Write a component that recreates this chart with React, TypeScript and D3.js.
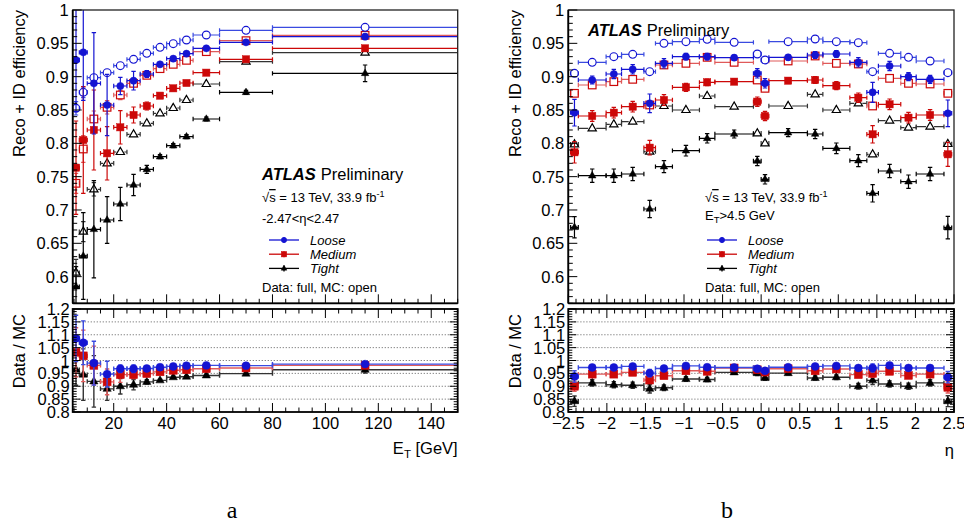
import React from 'react';
import * as d3 from 'd3';

// ---------- DATA: E_T panel (a) ----------
const etEdges = [4.5, 7, 10, 15, 20, 25, 30, 35, 40, 45, 50, 60, 80, 150];
const etLooseData = [0.925, 0.9365, 0.89, 0.8575, 0.886, 0.894, 0.904, 0.9185, 0.927, 0.9345, 0.9425, 0.9515, 0.96];
const etLooseDataErr = [0.077, 0.072, 0.076, 0.046, 0.013, 0.014, 0.005, 0.003, 0.003, 0.003, 0.003, 0.003, 0.004];
const etLooseMC = [0.8525, 0.8765, 0.8985, 0.906, 0.9165, 0.926, 0.935, 0.944, 0.9495, 0.955, 0.9625, 0.9695, 0.974];
const etLooseMCErr = [0.01, 0.008, 0.005, 0.004, 0.003, 0.003, 0.002, 0.002, 0.002, 0.002, 0.002, 0.002, 0.002];
const etMediumData = [0.7635, 0.805, 0.82, 0.785, 0.824, 0.8425, 0.856, 0.8715, 0.8825, 0.8905, 0.906, 0.926, 0.9425];
const etMediumDataErr = [0.07, 0.08, 0.06, 0.04, 0.025, 0.012, 0.006, 0.003, 0.003, 0.003, 0.003, 0.003, 0.004];
const etMediumMC = [0.74, 0.7915, 0.8365, 0.854, 0.8725, 0.89, 0.902, 0.912, 0.9185, 0.9245, 0.9375, 0.954, 0.962];
const etMediumMCErr = [0.015, 0.02, 0.012, 0.01, 0.007, 0.005, 0.003, 0.002, 0.002, 0.002, 0.002, 0.002, 0.002];
const etTightData = [0.585, 0.631, 0.671, 0.685, 0.709, 0.7375, 0.761, 0.78, 0.7965, 0.81, 0.8365, 0.8765, 0.905];
const etTightDataErr = [0.03, 0.065, 0.073, 0.035, 0.025, 0.016, 0.006, 0.003, 0.003, 0.003, 0.003, 0.003, 0.0125];
const etTightMC = [0.606, 0.6675, 0.731, 0.77, 0.787, 0.8135, 0.83, 0.845, 0.853, 0.865, 0.889, 0.9225, 0.936];
const etTightMCErr = [0.02, 0.015, 0.01, 0.005, 0.003, 0.003, 0.002, 0.002, 0.002, 0.002, 0.002, 0.002, 0.002];
const etLooseRatio = [1.086, 1.069, 0.99, 0.947, 0.968, 0.968, 0.969, 0.974, 0.977, 0.98, 0.981, 0.98, 0.986];
const etLooseRatioErr = [0.09, 0.085, 0.085, 0.05, 0.015, 0.015, 0.006, 0.004, 0.004, 0.004, 0.004, 0.004, 0.005];
const etMediumRatio = [1.032, 1.018, 0.981, 0.917, 0.945, 0.945, 0.949, 0.956, 0.962, 0.964, 0.968, 0.971, 0.981];
const etMediumRatioErr = [0.095, 0.1, 0.075, 0.05, 0.03, 0.015, 0.007, 0.004, 0.004, 0.004, 0.004, 0.004, 0.005];
const etTightRatio = [0.964, 0.945, 0.919, 0.89, 0.9, 0.906, 0.917, 0.923, 0.935, 0.937, 0.942, 0.949, 0.964];
const etTightRatioErr = [0.06, 0.1, 0.1, 0.045, 0.03, 0.02, 0.008, 0.004, 0.004, 0.004, 0.004, 0.004, 0.013];
const etTickLabels = [20, 40, 60, 80, 100, 120, 140];

// ---------- DATA: eta panel (b) ----------
const etaEdges = [-2.47, -2.37, -2.01, -1.81, -1.52, -1.37, -1.15, -0.8, -0.6, -0.1, 0, 0.1, 0.6, 0.8, 1.15, 1.37, 1.52, 1.81, 2.01, 2.37, 2.47];
const etaLooseData = [0.846, 0.895, 0.904, 0.911, 0.86, 0.92, 0.93, 0.93, 0.9285, 0.905, 0.89, 0.929, 0.9325, 0.934, 0.9215, 0.8765, 0.916, 0.9, 0.896, 0.845];
const etaLooseDataErr = [0.02, 0.006, 0.007, 0.007, 0.014, 0.007, 0.005, 0.005, 0.004, 0.007, 0.007, 0.004, 0.005, 0.005, 0.007, 0.015, 0.007, 0.006, 0.006, 0.02];
const etaLooseMC = [0.905, 0.9215, 0.93, 0.9335, 0.9075, 0.95, 0.9525, 0.956, 0.9515, 0.934, 0.925, 0.9525, 0.9565, 0.9525, 0.951, 0.9075, 0.935, 0.929, 0.9235, 0.906];
const etaLooseMCErr = [0.003, 0.002, 0.002, 0.002, 0.003, 0.002, 0.002, 0.002, 0.002, 0.002, 0.002, 0.002, 0.002, 0.002, 0.002, 0.003, 0.002, 0.002, 0.002, 0.003];
const etaMediumData = [0.7865, 0.841, 0.846, 0.855, 0.7935, 0.865, 0.884, 0.8915, 0.8925, 0.8625, 0.841, 0.894, 0.895, 0.8865, 0.8685, 0.8135, 0.8585, 0.8385, 0.8425, 0.7835];
const etaMediumDataErr = [0.016, 0.008, 0.008, 0.008, 0.011, 0.008, 0.006, 0.005, 0.004, 0.007, 0.007, 0.004, 0.005, 0.006, 0.007, 0.013, 0.008, 0.008, 0.008, 0.018];
const etaMediumMC = [0.875, 0.8875, 0.8925, 0.896, 0.8575, 0.9175, 0.92, 0.929, 0.9215, 0.895, 0.8825, 0.9235, 0.931, 0.92, 0.919, 0.856, 0.8975, 0.89, 0.889, 0.875];
const etaMediumMCErr = [0.003, 0.002, 0.002, 0.002, 0.003, 0.002, 0.002, 0.002, 0.002, 0.002, 0.002, 0.002, 0.002, 0.002, 0.002, 0.003, 0.002, 0.002, 0.002, 0.003];
const etaTightData = [0.674, 0.7515, 0.7515, 0.754, 0.7015, 0.765, 0.789, 0.8075, 0.814, 0.7735, 0.746, 0.816, 0.814, 0.7925, 0.774, 0.725, 0.7585, 0.7425, 0.754, 0.6735];
const etaTightDataErr = [0.016, 0.01, 0.01, 0.01, 0.013, 0.009, 0.008, 0.007, 0.006, 0.007, 0.007, 0.006, 0.007, 0.008, 0.009, 0.013, 0.01, 0.01, 0.01, 0.017];
const etaTightMC = [0.7985, 0.8225, 0.8285, 0.8325, 0.7875, 0.856, 0.85, 0.871, 0.855, 0.815, 0.8, 0.856, 0.8735, 0.85, 0.86, 0.7835, 0.834, 0.8235, 0.825, 0.799];
const etaTightMCErr = [0.004, 0.002, 0.002, 0.002, 0.003, 0.002, 0.002, 0.002, 0.002, 0.002, 0.002, 0.002, 0.002, 0.002, 0.002, 0.003, 0.002, 0.002, 0.002, 0.004];
const etaLooseRatio = [0.938, 0.973, 0.973, 0.977, 0.951, 0.969, 0.979, 0.974, 0.973, 0.968, 0.96, 0.974, 0.977, 0.979, 0.971, 0.971, 0.981, 0.971, 0.971, 0.935];
const etaLooseRatioErr = [0.022, 0.006, 0.007, 0.007, 0.014, 0.007, 0.005, 0.005, 0.004, 0.007, 0.007, 0.004, 0.005, 0.005, 0.007, 0.016, 0.007, 0.006, 0.006, 0.022];
const etaMediumRatio = [0.9, 0.947, 0.947, 0.954, 0.924, 0.941, 0.96, 0.958, 0.971, 0.964, 0.955, 0.968, 0.96, 0.967, 0.945, 0.95, 0.958, 0.942, 0.947, 0.896];
const etaMediumRatioErr = [0.02, 0.009, 0.009, 0.009, 0.013, 0.009, 0.007, 0.006, 0.005, 0.008, 0.008, 0.005, 0.006, 0.007, 0.008, 0.015, 0.009, 0.009, 0.009, 0.022];
const etaTightRatio = [0.842, 0.913, 0.906, 0.904, 0.89, 0.894, 0.928, 0.926, 0.954, 0.951, 0.932, 0.951, 0.932, 0.935, 0.9, 0.923, 0.909, 0.9, 0.913, 0.842];
const etaTightRatioErr = [0.02, 0.012, 0.012, 0.012, 0.016, 0.011, 0.009, 0.008, 0.007, 0.009, 0.009, 0.007, 0.008, 0.009, 0.011, 0.016, 0.012, 0.012, 0.012, 0.021];
const etaTickLabels = [-2.5, -2, -1.5, -1, -0.5, 0, 0.5, 1, 1.5, 2, 2.5];

const effTickLabels = [0.6, 0.65, 0.7, 0.75, 0.8, 0.85, 0.9, 0.95, 1];
const ratioTickLabels = [0.8, 0.85, 0.9, 0.95, 1, 1.05, 1.1, 1.15, 1.2];
const ratioGrid = [0.85, 0.9, 0.95, 1, 1.05, 1.1, 1.15];
const legendNames = ['Loose', 'Medium', 'Tight'];

// ---------- STYLE ----------
const FONT = "'Liberation Sans', Arial, Helvetica, sans-serif";
const BLUE = '#1414d2';
const RED = '#cc0808';
const BLACK = '#000000';
const BLUE_MC = '#3a4ae0';
const RED_MC = '#e05a5a';
const BLACK_MC = '#333333';
const COLORS = [BLUE, RED, BLACK];
const MC_COLORS = [BLUE_MC, RED_MC, BLACK_MC];
const SHAPES = ['circle', 'square', 'triangle'];

const TOP_Y0 = 10, TOP_Y1 = 303.3;
const RAT_Y0 = 309, RAT_Y1 = 412;

function Marker({ x, y, shape, open, color, s = 1 }: any) {
  const sw = 1.2;
  if (shape === 'circle') {
    const r = (open ? 3.9 : 3.6) * s;
    return <circle cx={x} cy={y} r={r} fill={open ? 'none' : color} stroke={color} strokeWidth={open ? sw : 0.5} />;
  }
  if (shape === 'square') {
    const h = (open ? 3.8 : 3.6) * s;
    return <rect x={x - h} y={y - h} width={2 * h} height={2 * h} fill={open ? 'none' : color} stroke={color} strokeWidth={open ? sw : 0.5} />;
  }
  const a = (open ? 4.6 : 4.2) * s;
  const pts = `${x},${y - a} ${x - a * 0.9},${y + a * 0.55} ${x + a * 0.9},${y + a * 0.55}`;
  return <polygon points={pts} fill={open ? 'none' : color} stroke={color} strokeWidth={open ? sw : 0.5} />;
}

function Points({ xs, ys, edges, vals, errs, color, barColor, shape, open, s = 1, barW = 1.2 }: any) {
  const gap = open ? 4 * s : 0;
  const cap = 2.2;
  return (
    <g>
      {vals.map((v: number, i: number) => {
        const xl = xs(edges[i]);
        const xr = xs(edges[i + 1]);
        const cx = xs((edges[i] + edges[i + 1]) / 2);
        const cy = ys(v);
        const yTop = ys(v + errs[i]);
        const yBot = ys(v - errs[i]);
        return (
          <g key={i} stroke={barColor} strokeWidth={barW} fill="none">
            <line x1={xl} x2={cx - gap} y1={cy} y2={cy} />
            <line x1={cx + gap} x2={xr} y1={cy} y2={cy} />
            <line x1={xl} x2={xl} y1={cy - cap} y2={cy + cap} />
            <line x1={xr} x2={xr} y1={cy - cap} y2={cy + cap} />
            {cy - yTop > gap && <line x1={cx} x2={cx} y1={yTop} y2={cy - gap} />}
            {yBot - cy > gap && <line x1={cx} x2={cx} y1={cy + gap} y2={yBot} />}
            {cy - yTop > gap && <line x1={cx - cap} x2={cx + cap} y1={yTop} y2={yTop} />}
            {yBot - cy > gap && <line x1={cx - cap} x2={cx + cap} y1={yBot} y2={yBot} />}
          </g>
        );
      })}
      {vals.map((v: number, i: number) => (
        <Marker key={'m' + i} x={xs((edges[i] + edges[i + 1]) / 2)} y={ys(v)} shape={shape} open={open} color={color} s={s} />
      ))}
    </g>
  );
}

function isMult(v: number, step: number) {
  const q = v / step;
  return Math.abs(q - Math.round(q)) < 1e-6;
}

function ticksOf(lo: number, hi: number, step: number) {
  const out: number[] = [];
  const start = Math.ceil(lo / step - 1e-9);
  const end = Math.floor(hi / step + 1e-9);
  for (let k = start; k <= end; k++) out.push(+(k * step).toFixed(6));
  return out;
}

function Panel(p: any) {
  const xs = d3.scaleLinear().domain(p.xDomain).range([p.x0, p.x1]);
  const yt = d3.scaleLinear().domain([0.56, 1]).range([TOP_Y1, TOP_Y0]);
  const yr = d3.scaleLinear().domain([0.8, 1.2]).range([RAT_Y1, RAT_Y0]);
  const xMinors = ticksOf(p.xDomain[0], p.xDomain[1], p.xMinor);
  const yMinorsTop = ticksOf(0.56, 1, 0.01);
  const yMinorsRat = ticksOf(0.8, 1.2, 0.01);
  const clipT = p.id + '-ct';
  const clipR = p.id + '-cr';
  const topSeries = p.top;
  const ratSeries = p.ratio;
  return (
    <g fontFamily={FONT}>
      <defs>
        <clipPath id={clipT}><rect x={p.x0} y={TOP_Y0} width={p.x1 - p.x0} height={TOP_Y1 - TOP_Y0} /></clipPath>
        <clipPath id={clipR}><rect x={p.x0} y={RAT_Y0} width={p.x1 - p.x0} height={RAT_Y1 - RAT_Y0} /></clipPath>
      </defs>
      {/* ratio grid */}
      {ratioGrid.map((v) => (
        <line key={'g' + v} x1={p.x0} x2={p.x1} y1={yr(v)} y2={yr(v)} stroke="#555" strokeWidth={0.8} strokeDasharray="1.2,1.8" />
      ))}
      {/* top data */}
      <g clipPath={`url(#${clipT})`}>
        {topSeries.map((s: any, k: number) => (
          <Points key={k} xs={xs} ys={yt} edges={p.edges} {...s} />
        ))}
      </g>
      <g clipPath={`url(#${clipR})`}>
        {ratSeries.map((s: any, k: number) => (
          <Points key={k} xs={xs} ys={yr} edges={p.edges} {...s} />
        ))}
      </g>
      {/* frames */}
      <rect x={p.x0} y={TOP_Y0} width={p.x1 - p.x0} height={TOP_Y1 - TOP_Y0} fill="none" stroke="#222" strokeWidth={1.3} />
      <line x1={p.x0} x2={p.x0} y1={TOP_Y0} y2={TOP_Y1} stroke="#000" strokeWidth={1.8} />
      <line x1={p.x0} x2={p.x1} y1={TOP_Y1} y2={TOP_Y1} stroke="#000" strokeWidth={1.8} />
      <rect x={p.x0} y={RAT_Y0} width={p.x1 - p.x0} height={RAT_Y1 - RAT_Y0} fill="none" stroke="#000" strokeWidth={1.8} />
      {/* ticks top panel */}
      <g stroke="#000" strokeWidth={1}>
        {yMinorsTop.map((v) => {
          const L = isMult(v, 0.05) ? 9 : 4.5;
          return <line key={'yt' + v} x1={p.x0} x2={p.x0 + L} y1={yt(v)} y2={yt(v)} />;
        })}
        {xMinors.map((v) => {
          const L = isMult(v, p.xMajor) ? 9 : 4.5;
          return <line key={'xt' + v} x1={xs(v)} x2={xs(v)} y1={TOP_Y1} y2={TOP_Y1 - L} />;
        })}
        {/* ratio ticks */}
        {yMinorsRat.map((v) => {
          const L = isMult(v, 0.05) ? 8 : 4;
          return (
            <g key={'yr' + v}>
              <line x1={p.x0} x2={p.x0 + L} y1={yr(v)} y2={yr(v)} />
              <line x1={p.x1} x2={p.x1 - L} y1={yr(v)} y2={yr(v)} />
            </g>
          );
        })}
        {xMinors.map((v) => {
          const L = isMult(v, p.xMajor) ? 9 : 4.5;
          return (
            <g key={'xr' + v}>
              <line x1={xs(v)} x2={xs(v)} y1={RAT_Y1} y2={RAT_Y1 - L} />
              <line x1={xs(v)} x2={xs(v)} y1={RAT_Y0} y2={RAT_Y0 + L} />
            </g>
          );
        })}
      </g>
      {/* tick labels */}
      <g fontSize={16.5} fill="#000">
        {effTickLabels.map((v) => (
          <text key={'lt' + v} x={p.x0 - 4} y={yt(v) + 6} textAnchor="end">{String(v)}</text>
        ))}
        {ratioTickLabels.map((v) => (
          <text key={'lr' + v} x={p.x0 - 3} y={yr(v) + 6} textAnchor="end">{String(v)}</text>
        ))}
        {p.xLabels.map((v: number) => (
          <text key={'lx' + v} x={xs(v)} y={429} textAnchor="middle">{v < 0 ? '\u2212' + String(-v) : String(v)}</text>
        ))}
      </g>
      {/* axis titles */}
      <text fontSize={16.5} transform={`translate(${p.yTitleX},${TOP_Y0}) rotate(-90)`} textAnchor="end">Reco + ID efficiency</text>
      <text fontSize={16.5} transform={`translate(${p.yTitleX},${314}) rotate(-90)`} textAnchor="end">Data / MC</text>
      {p.xTitle}
      {/* texts */}
      <text x={p.atlasX} y={p.atlasY} fontSize={16.5}>
        <tspan fontWeight="bold" fontStyle="italic">ATLAS</tspan>
        <tspan dx={5}>Preliminary</tspan>
      </text>
      <text x={p.infoX} y={202} fontSize={13}>
        <tspan>√</tspan><tspan textDecoration="overline">s</tspan><tspan> = 13 TeV, 33.9 fb</tspan>
        <tspan fontSize={9} dy={-5}>-1</tspan>
      </text>
      {p.selText}
      {legendNames.map((n, k) => {
        const y = 240 + k * 14.2;
        return (
          <g key={n}>
            <line x1={p.legX - 15} x2={p.legX + 15} y1={y} y2={y} stroke={COLORS[k]} strokeWidth={1.3} />
            <line x1={p.legX} x2={p.legX} y1={y - 3} y2={y + 3} stroke={COLORS[k]} strokeWidth={1.3} />
            <Marker x={p.legX} y={y} shape={SHAPES[k]} open={false} color={COLORS[k]} s={0.75} />
            <text x={p.legX + 26} y={y + 4.5} fontSize={13} fontStyle="italic">{n}</text>
          </g>
        );
      })}
      <text x={p.infoX} y={292} fontSize={13}>Data: full, MC: open</text>
    </g>
  );
}

function mkTop(data: number[][], dataErr: number[][], mc: number[][], mcErr: number[][]) {
  const out: any[] = [];
  for (let k = 2; k >= 0; k--) {
    out.push({ vals: mc[k], errs: mcErr[k], color: COLORS[k], barColor: MC_COLORS[k], shape: SHAPES[k], open: true });
  }
  for (let k = 2; k >= 0; k--) {
    out.push({ vals: data[k], errs: dataErr[k], color: COLORS[k], barColor: COLORS[k], shape: SHAPES[k], open: false });
  }
  return out;
}

function mkRatio(r: number[][], rErr: number[][]) {
  const out: any[] = [];
  for (let k = 2; k >= 0; k--) {
    out.push({ vals: r[k], errs: rErr[k], color: COLORS[k], barColor: MC_COLORS[k], shape: SHAPES[k], open: false, s: 1.1, barW: 1.4 });
  }
  return out;
}

export default function App() {
  const etTop = mkTop(
    [etLooseData, etMediumData, etTightData],
    [etLooseDataErr, etMediumDataErr, etTightDataErr],
    [etLooseMC, etMediumMC, etTightMC],
    [etLooseMCErr, etMediumMCErr, etTightMCErr]
  );
  const etRat = mkRatio([etLooseRatio, etMediumRatio, etTightRatio], [etLooseRatioErr, etMediumRatioErr, etTightRatioErr]);
  const etaTop = mkTop(
    [etaLooseData, etaMediumData, etaTightData],
    [etaLooseDataErr, etaMediumDataErr, etaTightDataErr],
    [etaLooseMC, etaMediumMC, etaTightMC],
    [etaLooseMCErr, etaMediumMCErr, etaTightMCErr]
  );
  const etaRat = mkRatio([etaLooseRatio, etaMediumRatio, etaTightRatio], [etaLooseRatioErr, etaMediumRatioErr, etaTightRatioErr]);

  return (
    <svg width={964} height={524} style={{ position: 'absolute', left: 0, top: 0, background: '#fff' }} xmlns="http://www.w3.org/2000/svg">
      <rect x={0} y={0} width={964} height={524} fill="#fff" />
      <Panel
        id="pa" x0={72.7} x1={457.7} xDomain={[4.5, 150]} edges={etEdges}
        top={etTop} ratio={etRat} xMajor={20} xMinor={5} xLabels={etTickLabels}
        yTitleX={25} atlasX={262} atlasY={180} infoX={262} legX={284}
        selText={<text x={262} y={223} fontSize={13}>-2.47&lt;η&lt;2.47</text>}
        xTitle={<text x={457.7} y={454} fontSize={16.5} textAnchor="end">E<tspan fontSize={11.5} dy={4}>T</tspan><tspan dy={-4}> [GeV]</tspan></text>}
      />
      <Panel
        id="pb" x0={568.3} x1={954} xDomain={[-2.5, 2.5]} edges={etaEdges}
        top={etaTop} ratio={etaRat} xMajor={0.5} xMinor={0.1} xLabels={etaTickLabels}
        yTitleX={521} atlasX={588} atlasY={36} infoX={705} legX={722}
        selText={<text x={705} y={220} fontSize={13}>E<tspan fontSize={9.5} dy={3}>T</tspan><tspan dy={-3}>&gt;4.5 GeV</tspan></text>}
        xTitle={<text x={954} y={456} fontSize={16.5} textAnchor="end">η</text>}
      />
      <text x={232} y={518} fontSize={24} fontFamily="'Liberation Serif', 'DejaVu Serif', serif" textAnchor="middle">a</text>
      <text x={727} y={518} fontSize={24} fontFamily="'Liberation Serif', 'DejaVu Serif', serif" textAnchor="middle">b</text>
    </svg>
  );
}
